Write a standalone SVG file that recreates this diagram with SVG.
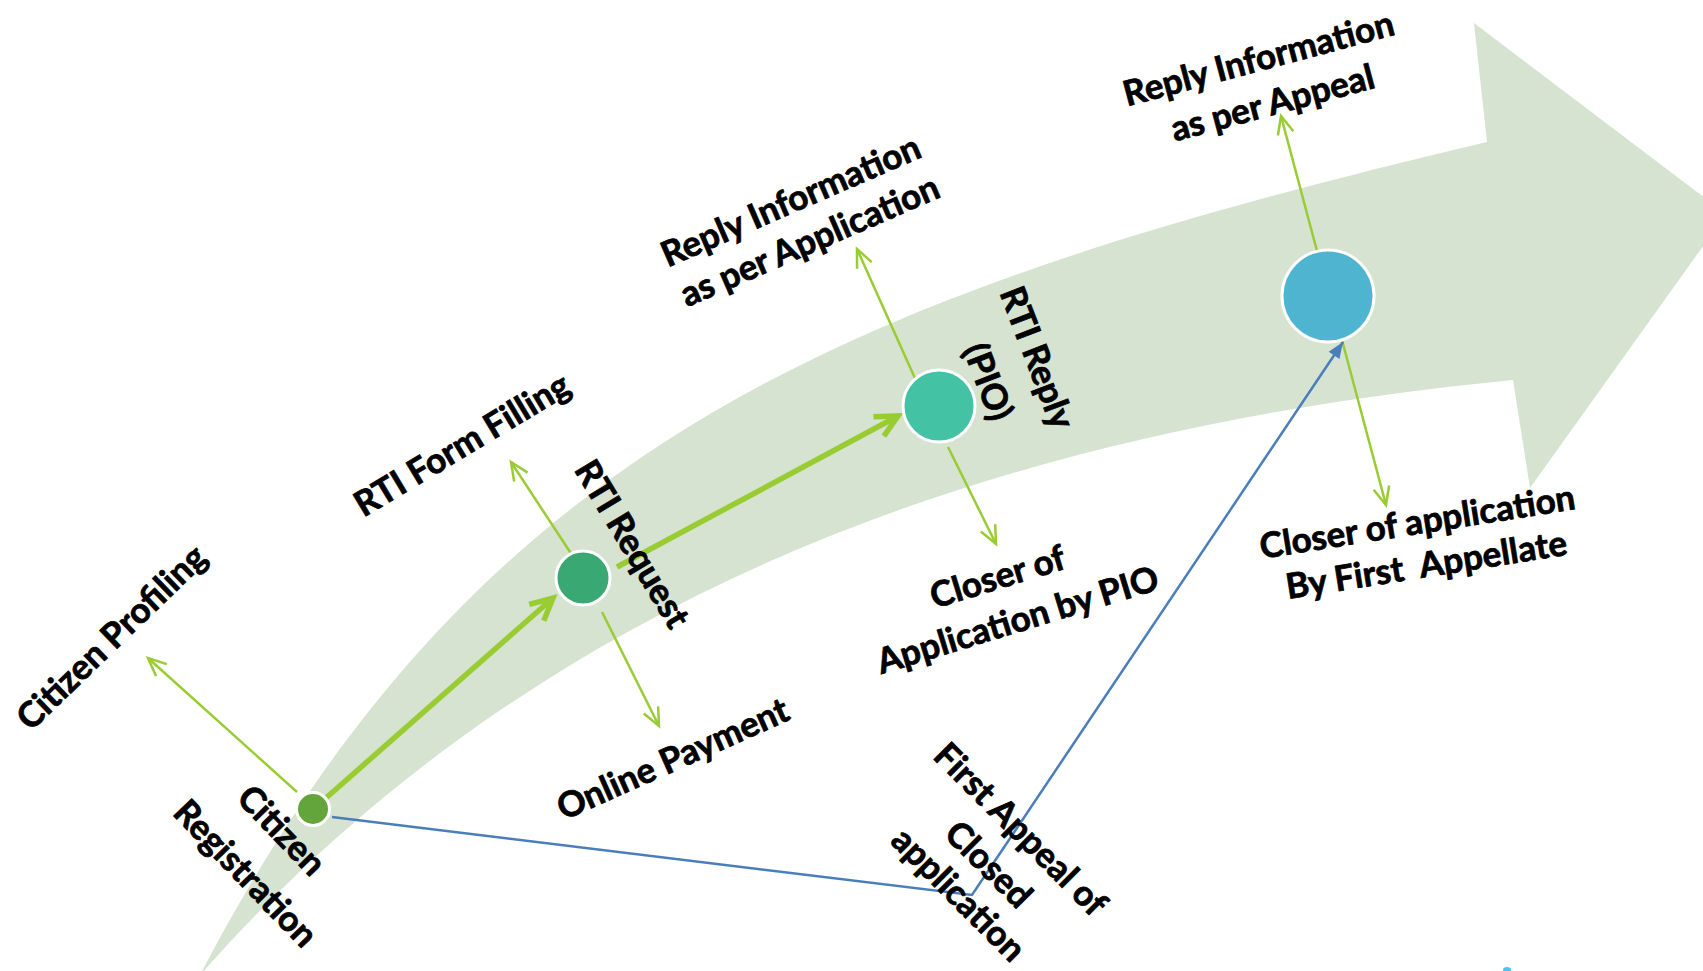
<svg xmlns="http://www.w3.org/2000/svg" width="1703" height="971" viewBox="0 0 1703 971">
<defs>
<style>
.lbl{font-family:Lato,"Open Sans","Liberation Sans",sans-serif;font-weight:700;font-size:35px;fill:#000;stroke:#000;stroke-width:0.8;text-anchor:middle;dominant-baseline:central}
.thin{fill:none;stroke:#99CC33;stroke-width:2.5}
.thick{fill:none;stroke:#99CC33;stroke-width:5.5}
.blue{fill:none;stroke:#4A7EBB;stroke-width:2.5}
.node{stroke:#fff;stroke-width:3}
</style>
<marker id="vThin" markerUnits="userSpaceOnUse" markerWidth="40" markerHeight="40" viewBox="-30 -20 40 40" refX="0" refY="0" orient="auto" overflow="visible">
<path d="M-18,-8 L0,0 L-18,8" fill="none" stroke="#99CC33" stroke-width="2.5"/>
</marker>
<marker id="vThick" markerUnits="userSpaceOnUse" markerWidth="50" markerHeight="50" viewBox="-40 -25 50 50" refX="0" refY="0" orient="auto" overflow="visible">
<path d="M-22,-11 L0,0 L-22,11" fill="none" stroke="#99CC33" stroke-width="5.5"/>
</marker>
<marker id="tri" markerUnits="userSpaceOnUse" markerWidth="30" markerHeight="30" viewBox="-25 -15 30 30" refX="0" refY="0" orient="auto" overflow="visible">
<path d="M-16,-6.5 L0,0 L-16,6.5 Z" fill="#4A7EBB"/>
</marker>
</defs>
<rect width="1703" height="971" fill="#fff"/>
<g id="band">
<path d="M200,975 C480,440 847,294 1487,142 L1474,23 L1726,214 L1530,488 L1513,380 C1000,430 540,590 200,975 Z" fill="#D6E3D0"/>
</g>
<g id="connectors">
<line class="thick" x1="326" y1="798" x2="553" y2="598" marker-end="url(#vThick)"/>
<line class="thick" x1="617" y1="567" x2="898" y2="416" marker-end="url(#vThick)"/>
<line class="thin" x1="297" y1="792" x2="148" y2="658" marker-end="url(#vThin)"/>
<line class="thin" x1="574" y1="558" x2="511" y2="462" marker-end="url(#vThin)"/>
<line class="thin" x1="602" y1="612" x2="659" y2="726" marker-end="url(#vThin)"/>
<line class="thin" x1="918" y1="385" x2="857" y2="249" marker-end="url(#vThin)"/>
<line class="thin" x1="948" y1="447" x2="996" y2="544" marker-end="url(#vThin)"/>
<line class="thin" x1="1317" y1="251" x2="1281" y2="116" marker-end="url(#vThin)"/>
<line class="thin" x1="1342" y1="340" x2="1386" y2="505" marker-end="url(#vThin)"/>
<polyline class="blue" points="332,817 972,895 1343,342" marker-end="url(#tri)"/>
</g>
<g id="citizen-registration">
<circle class="node" cx="313" cy="809" r="16.5" fill="#63A53B"/>
<text class="lbl" transform="translate(283,829) rotate(46)">Citizen</text>
<text class="lbl" transform="translate(247,872) rotate(46)">Registration</text>
</g>
<g id="citizen-profiling">
<text class="lbl" transform="translate(110,636) rotate(-44)">Citizen Profiling</text>
</g>
<g id="rti-request">
<circle class="node" cx="583" cy="578" r="27" fill="#3AA872"/>
<text class="lbl" transform="translate(634,543) rotate(59)">RTI Request</text>
</g>
<g id="rti-form-filling">
<text class="lbl" transform="translate(461,443) rotate(-31)">RTI Form Filling</text>
</g>
<g id="online-payment">
<text class="lbl" transform="translate(672,757) rotate(-24)">Online Payment</text>
</g>
<g id="rti-reply">
<circle class="node" cx="939" cy="406" r="36" fill="#44C2A4"/>
<text class="lbl" transform="translate(1039,357) rotate(69)">RTI Reply</text>
<text class="lbl" transform="translate(990,381) rotate(69)">(PIO)</text>
</g>
<g id="reply-application">
<text class="lbl" transform="translate(790,199) rotate(-23.5)">Reply Information</text>
<text class="lbl" transform="translate(809,239) rotate(-23.5)">as per Application</text>
</g>
<g id="closer-pio">
<text class="lbl" transform="translate(997,575) rotate(-17)">Closer of</text>
<text class="lbl" transform="translate(1017,618) rotate(-17)">Application by PIO</text>
</g>
<g id="first-appeal">
<circle class="node" cx="1328" cy="296" r="46" fill="#4EB4D0"/>
</g>
<g id="reply-appeal">
<text class="lbl" transform="translate(1258,57) rotate(-15)">Reply Information</text>
<text class="lbl" transform="translate(1272,101) rotate(-15)">as per Appeal</text>
</g>
<g id="closer-appellate">
<text class="lbl" transform="translate(1417,520) rotate(-9)">Closer of application</text>
<text class="lbl" xml:space="preserve" transform="translate(1426,563) rotate(-9)">By First  Appellate</text>
</g>
<g id="first-appeal-label">
<text class="lbl" transform="translate(1022,828) rotate(45)">First Appeal of</text>
<text class="lbl" transform="translate(990,863) rotate(45)">Closed</text>
<text class="lbl" transform="translate(960,893) rotate(45)">application</text>
</g>
<ellipse cx="1507" cy="970" rx="4" ry="3" fill="#4FC3F7"/>
</svg>
